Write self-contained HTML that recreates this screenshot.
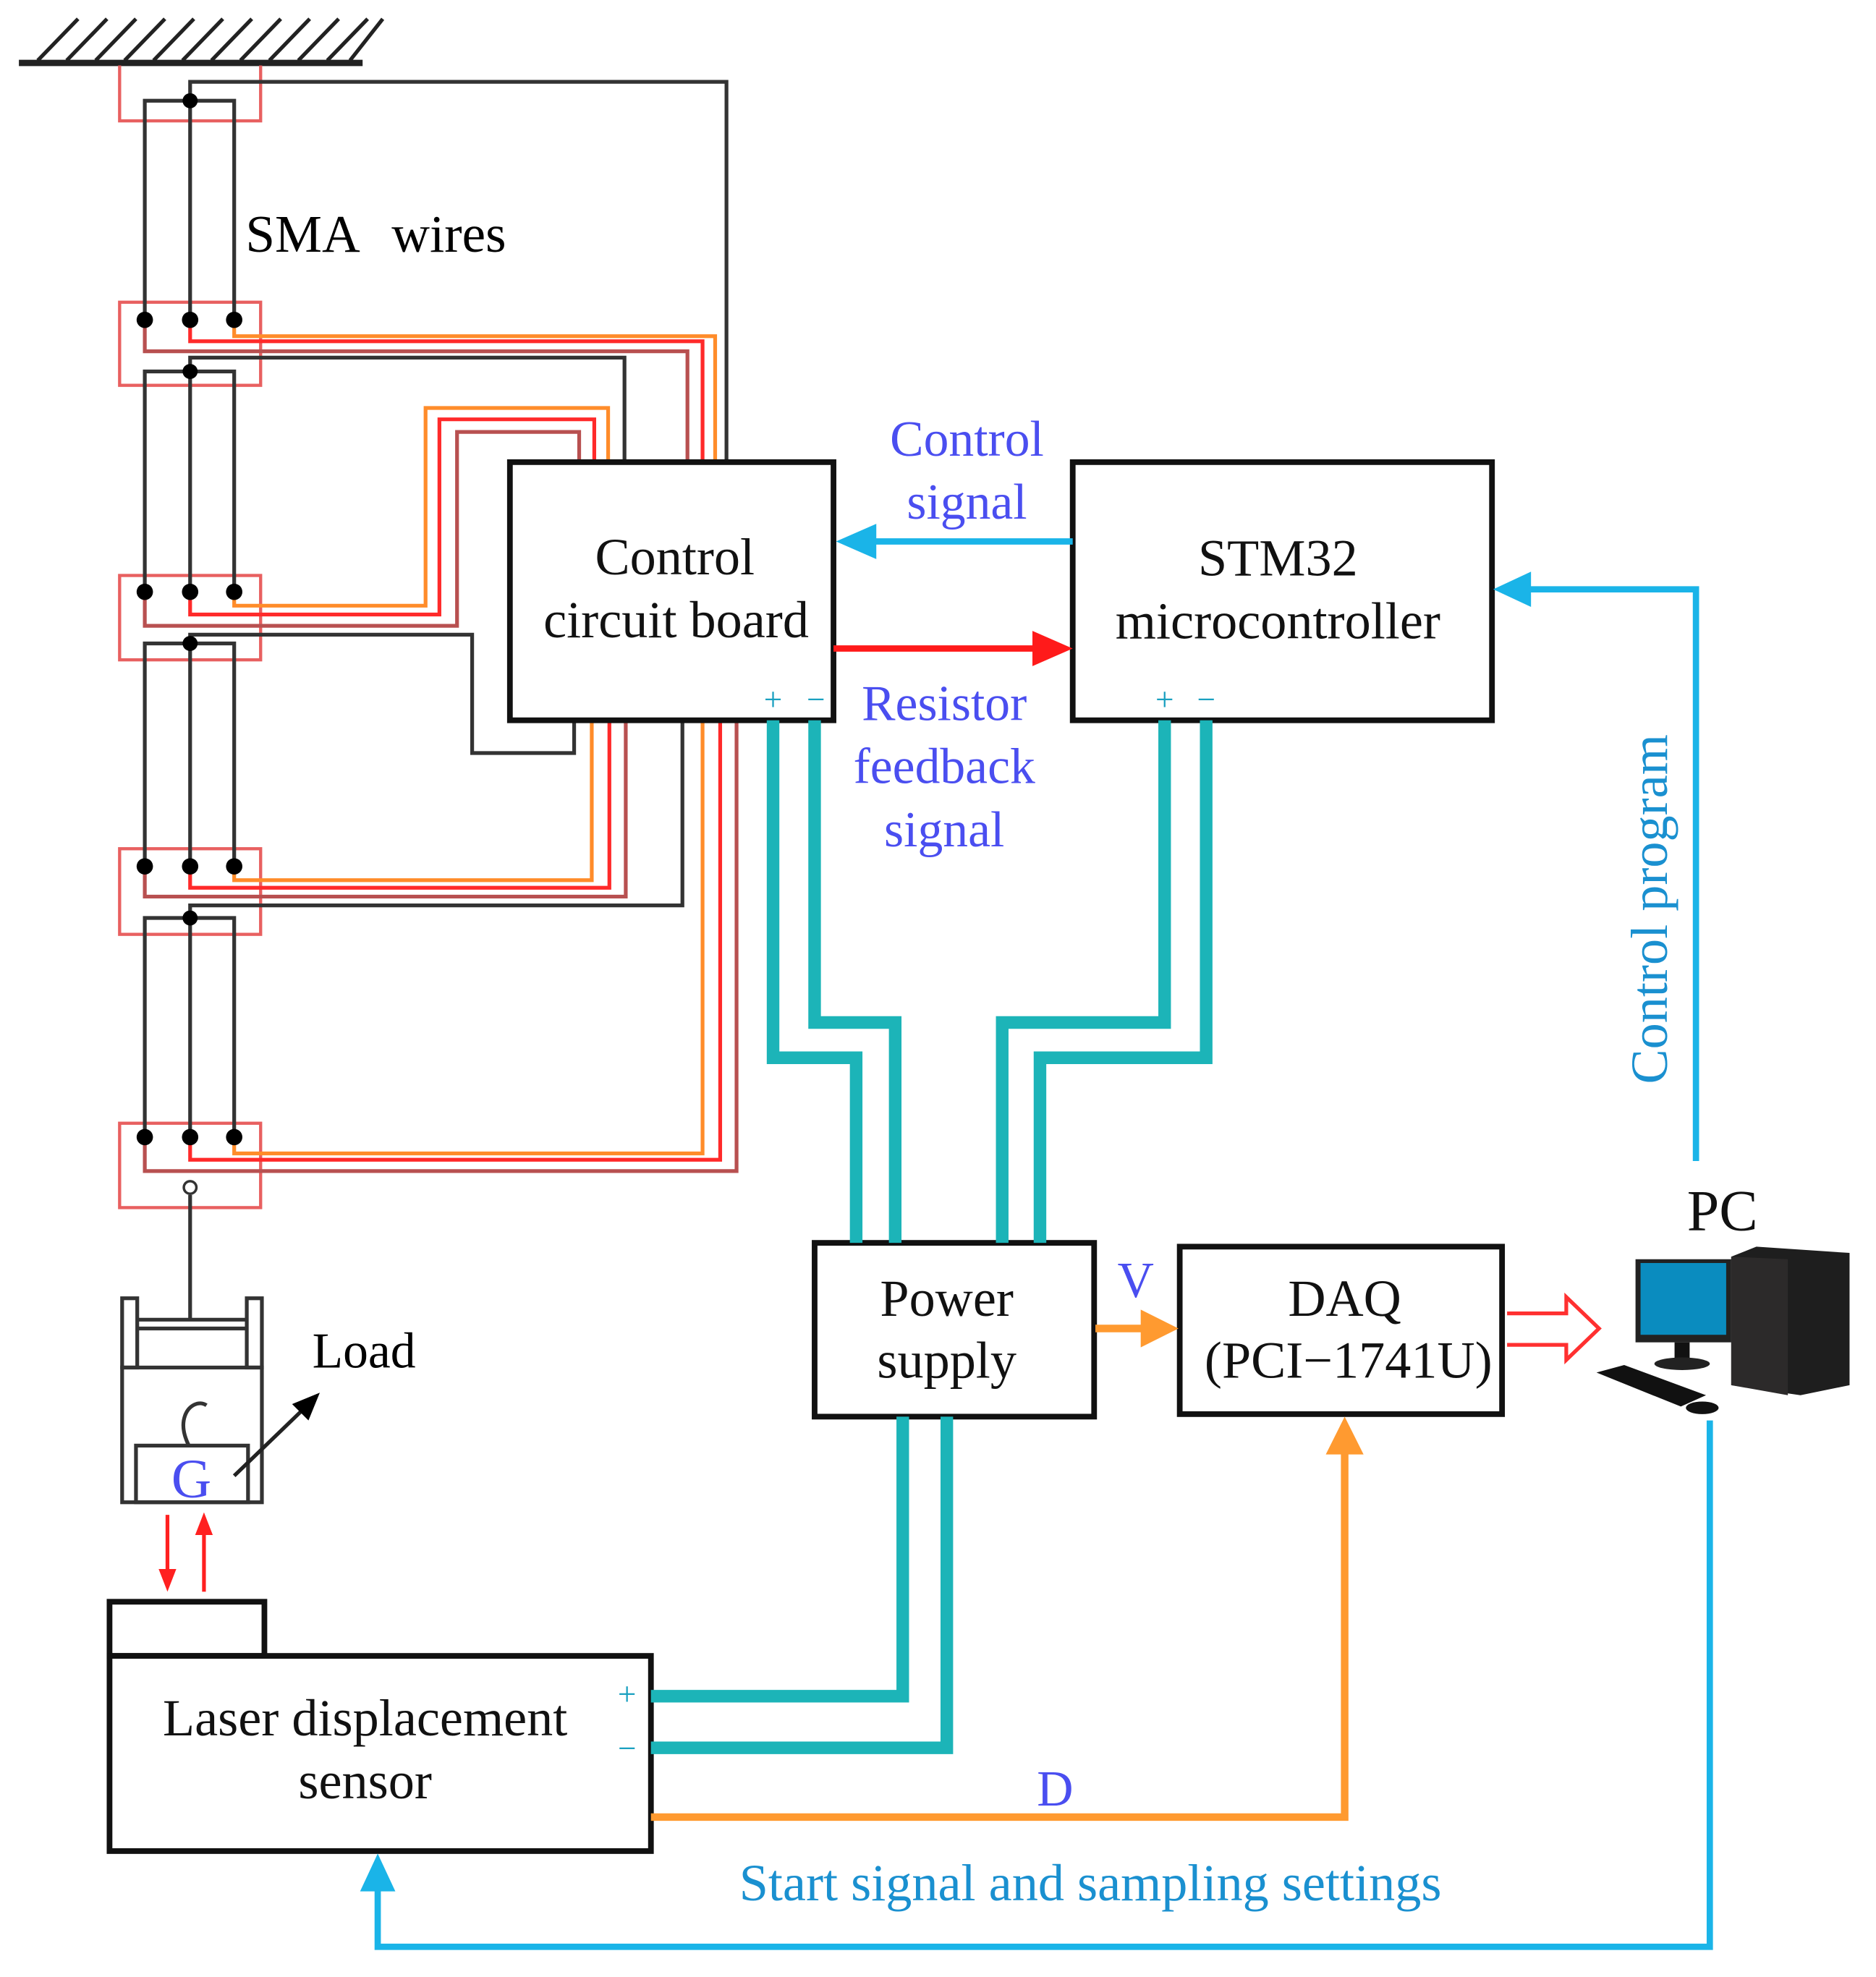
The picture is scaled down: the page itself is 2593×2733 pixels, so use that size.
<!DOCTYPE html>
<html><head><meta charset="utf-8"><style>
html,body{margin:0;padding:0;background:#fff}
svg{display:block}
text{font-family:"Liberation Serif",serif}
</style></head><body>
<svg width="2593" height="2733" viewBox="0 0 1490 1570" preserveAspectRatio="none" xmlns="http://www.w3.org/2000/svg">
<rect width="1490" height="1570" fill="#fff"/>
<!-- ground -->
<g stroke="#222" stroke-width="3">
<line x1="15" y1="50" x2="288" y2="50" stroke-width="5"/>
<line x1="30" y1="48" x2="62" y2="15"/><line x1="53" y1="48" x2="85" y2="15"/><line x1="76" y1="48" x2="108" y2="15"/><line x1="99" y1="48" x2="131" y2="15"/><line x1="122" y1="48" x2="154" y2="15"/><line x1="145" y1="48" x2="177" y2="15"/><line x1="168" y1="48" x2="200" y2="15"/><line x1="191" y1="48" x2="223" y2="15"/><line x1="214" y1="48" x2="246" y2="15"/><line x1="237" y1="48" x2="269" y2="15"/><line x1="260" y1="48" x2="292" y2="15"/><line x1="278" y1="48" x2="304" y2="15"/>
</g>
<g fill="none" stroke="#e86060" stroke-width="2.5">
<path d="M95,52 V96 H207 V52"/>
<rect x="95" y="240" width="112" height="66"/>
<rect x="95" y="457" width="112" height="67"/>
<rect x="95" y="674" width="112" height="68"/>
<rect x="95" y="892" width="112" height="67"/>
</g>
<g fill="none" stroke-width="3">
<path d="M186,254 V267 H568 V367" stroke="#ff8c2a"/>
<path d="M151,254 V271 H558 V367" stroke="#ff2a2a"/>
<path d="M115,254 V279 H546 V367" stroke="#b85050"/>
<path d="M186,470 V481 H338 V324 H483 V367" stroke="#ff8c2a"/>
<path d="M151,470 V488 H349 V333 H472 V367" stroke="#ff2a2a"/>
<path d="M115,470 V497 H363 V343 H460 V367" stroke="#b85050"/>
<path d="M186,688 V699 H470 V572" stroke="#ff8c2a"/>
<path d="M151,688 V705 H484 V572" stroke="#ff2a2a"/>
<path d="M115,688 V712 H497 V572" stroke="#b85050"/>
<path d="M186,903 V916 H558 V572" stroke="#ff8c2a"/>
<path d="M151,903 V921 H572 V572" stroke="#ff2a2a"/>
<path d="M115,903 V930 H585 V572" stroke="#b85050"/>
</g>
<g fill="none" stroke="#333" stroke-width="3">
<path d="M151,80 V65 H577 V367"/>
<path d="M151,295 V284 H496 V367"/>
<path d="M151,511 V504 H375 V598 H456 V572"/>
<path d="M151,729 V719 H542 V572"/>
<path d="M115,254 V80 H186 V254 M151,80 V254"/>
<path d="M115,470 V295 H186 V470 M151,295 V470"/>
<path d="M115,688 V511 H186 V688 M151,511 V688"/>
<path d="M115,903 V729 H186 V903 M151,729 V903"/>
<path d="M151,949 V1048"/>
</g>
<g fill="#000">
<circle cx="151" cy="80" r="6"/><circle cx="151" cy="295" r="6"/><circle cx="151" cy="511" r="6"/><circle cx="151" cy="729" r="6"/>
<circle cx="115" cy="254" r="6.5"/><circle cx="151" cy="254" r="6.5"/><circle cx="186" cy="254" r="6.5"/>
<circle cx="115" cy="470" r="6.5"/><circle cx="151" cy="470" r="6.5"/><circle cx="186" cy="470" r="6.5"/>
<circle cx="115" cy="688" r="6.5"/><circle cx="151" cy="688" r="6.5"/><circle cx="186" cy="688" r="6.5"/>
<circle cx="115" cy="903" r="6.5"/><circle cx="151" cy="903" r="6.5"/><circle cx="186" cy="903" r="6.5"/>
</g>
<circle cx="151" cy="943" r="5" fill="#fff" stroke="#333" stroke-width="2"/>
<text x="195" y="200" font-size="42">SMA</text><text x="311" y="200" font-size="42">wires</text>
<g fill="none" stroke="#333" stroke-width="3">
<rect x="97" y="1031" width="12" height="55"/><rect x="196" y="1031" width="12" height="55"/>
<line x1="109" y1="1048" x2="196" y2="1048"/><line x1="109" y1="1055" x2="196" y2="1055"/>
<rect x="97" y="1086" width="111" height="107"/>
<rect x="108" y="1148" width="89" height="45"/>
<path d="M150,1148 C146,1140 144,1132 147,1124 C150,1116 158,1112 164,1116"/>
</g>
<text x="152" y="1189" font-size="44" fill="#4a4ef0" text-anchor="middle">G</text>
<line x1="186" y1="1172" x2="240" y2="1120" stroke="#222" stroke-width="3"/>
<path d="M254,1106 L232,1115 L245,1128 Z" fill="#000"/>
<text x="248" y="1086" font-size="40">Load</text>
<g stroke="#ff2020" stroke-width="3" fill="#ff2020">
<line x1="133" y1="1203" x2="133" y2="1250"/><path d="M126,1246 L140,1246 L133,1264 Z" stroke="none"/>
<line x1="162" y1="1264" x2="162" y2="1216"/><path d="M155,1219 L169,1219 L162,1201 Z" stroke="none"/>
</g>
<g fill="#fff" stroke="#111" stroke-width="4.5">
<rect x="405" y="367" width="257" height="205"/>
<rect x="852" y="367" width="333" height="205"/>
<rect x="647" y="987" width="222" height="138"/>
<rect x="937" y="990" width="256" height="133"/>
<rect x="87" y="1272" width="123" height="43"/>
<rect x="87" y="1315" width="430" height="155"/>
</g>
<g font-size="41.5" text-anchor="middle" fill="#111">
<text x="536" y="456">Control</text><text x="537" y="506">circuit board</text>
<text x="1015" y="457">STM32</text><text x="1015" y="507">microcontroller</text>
<text x="752" y="1045">Power</text><text x="752" y="1094">supply</text>
<text x="1068" y="1045">DAQ</text><text x="1071" y="1094">(PCI−1741U)</text>
<text x="290" y="1378">Laser displacement</text><text x="290" y="1428">sensor</text>
<text x="1368" y="977" font-size="46">PC</text>
</g>
<g font-size="26" fill="#1aa0c0" text-anchor="middle">
<text x="614" y="564">+</text><text x="648" y="564">−</text>
<text x="925" y="564">+</text><text x="958" y="564">−</text>
<text x="498" y="1354">+</text><text x="498" y="1397">−</text>
</g>
<g fill="none" stroke="#1cb4b8" stroke-width="10">
<path d="M614,572 V840 H680 V987"/>
<path d="M647,572 V812 H711 V987"/>
<path d="M958,572 V840 H826 V987"/>
<path d="M925,572 V812 H796 V987"/>
<path d="M517,1347 H717 V1125"/>
<path d="M517,1388 H752 V1125"/>
</g>
<line x1="852" y1="430" x2="690" y2="430" stroke="#1ab4e8" stroke-width="5"/>
<path d="M664,430 L696,416 L696,444 Z" fill="#1ab4e8"/>
<line x1="662" y1="515" x2="826" y2="515" stroke="#ff1a1a" stroke-width="5"/>
<path d="M852,515 L820,501 L820,529 Z" fill="#ff1a1a"/>
<g font-size="40" fill="#4a4ef0" text-anchor="middle">
<text x="768" y="362">Control</text><text x="768" y="412">signal</text>
<text x="750" y="572">Resistor</text><text x="750" y="622">feedback</text><text x="750" y="672">signal</text>
<text x="902" y="1030">V</text><text x="838" y="1434">D</text>
</g>
<line x1="870" y1="1055" x2="912" y2="1055" stroke="#ff9a30" stroke-width="6"/>
<path d="M936,1055 L906,1040 L906,1070 Z" fill="#ff9a30"/>
<path d="M517,1443 H1068 V1150" fill="none" stroke="#ff9a30" stroke-width="6"/>
<path d="M1068,1125 L1053,1155 L1083,1155 Z" fill="#ff9a30"/>
<path d="M1197,1043 H1244 V1030 L1270,1055 L1244,1080 V1068 H1197" fill="none" stroke="#ff3030" stroke-width="3"/>
<path d="M1347,922 V468 H1210" fill="none" stroke="#1ab4e8" stroke-width="5"/>
<path d="M1186,468 L1216,454 L1216,482 Z" fill="#1ab4e8"/>
<text transform="translate(1324,722) rotate(-90)" font-size="41.5" fill="#1a90d0" text-anchor="middle">Control program</text>
<path d="M1358,1128 V1546 H300 V1495" fill="none" stroke="#1ab4e8" stroke-width="5"/>
<path d="M300,1472 L286,1502 L314,1502 Z" fill="#1ab4e8"/>
<text x="866" y="1509" font-size="41.5" fill="#1a90d0" text-anchor="middle">Start signal and sampling settings</text>
<rect x="1299" y="1000" width="76" height="66" fill="#222"/>
<rect x="1303" y="1003" width="68" height="57" fill="#0a8cbf"/>
<rect x="1330" y="1066" width="12" height="14" fill="#111"/>
<ellipse cx="1336" cy="1083" rx="22" ry="5" fill="#222"/>
<path d="M1375,998 L1395,990 L1469,995 L1469,1100 L1430,1108 L1375,1100 Z" fill="#1e1e1e"/>
<path d="M1375,998 L1420,1000 L1420,1108 L1375,1100 Z" fill="#2c2a2a"/>
<path d="M1268,1090 L1290,1084 L1355,1108 L1335,1117 Z" fill="#111"/>
<ellipse cx="1352" cy="1118" rx="13" ry="5" fill="#111"/>
</svg>
</body></html>
